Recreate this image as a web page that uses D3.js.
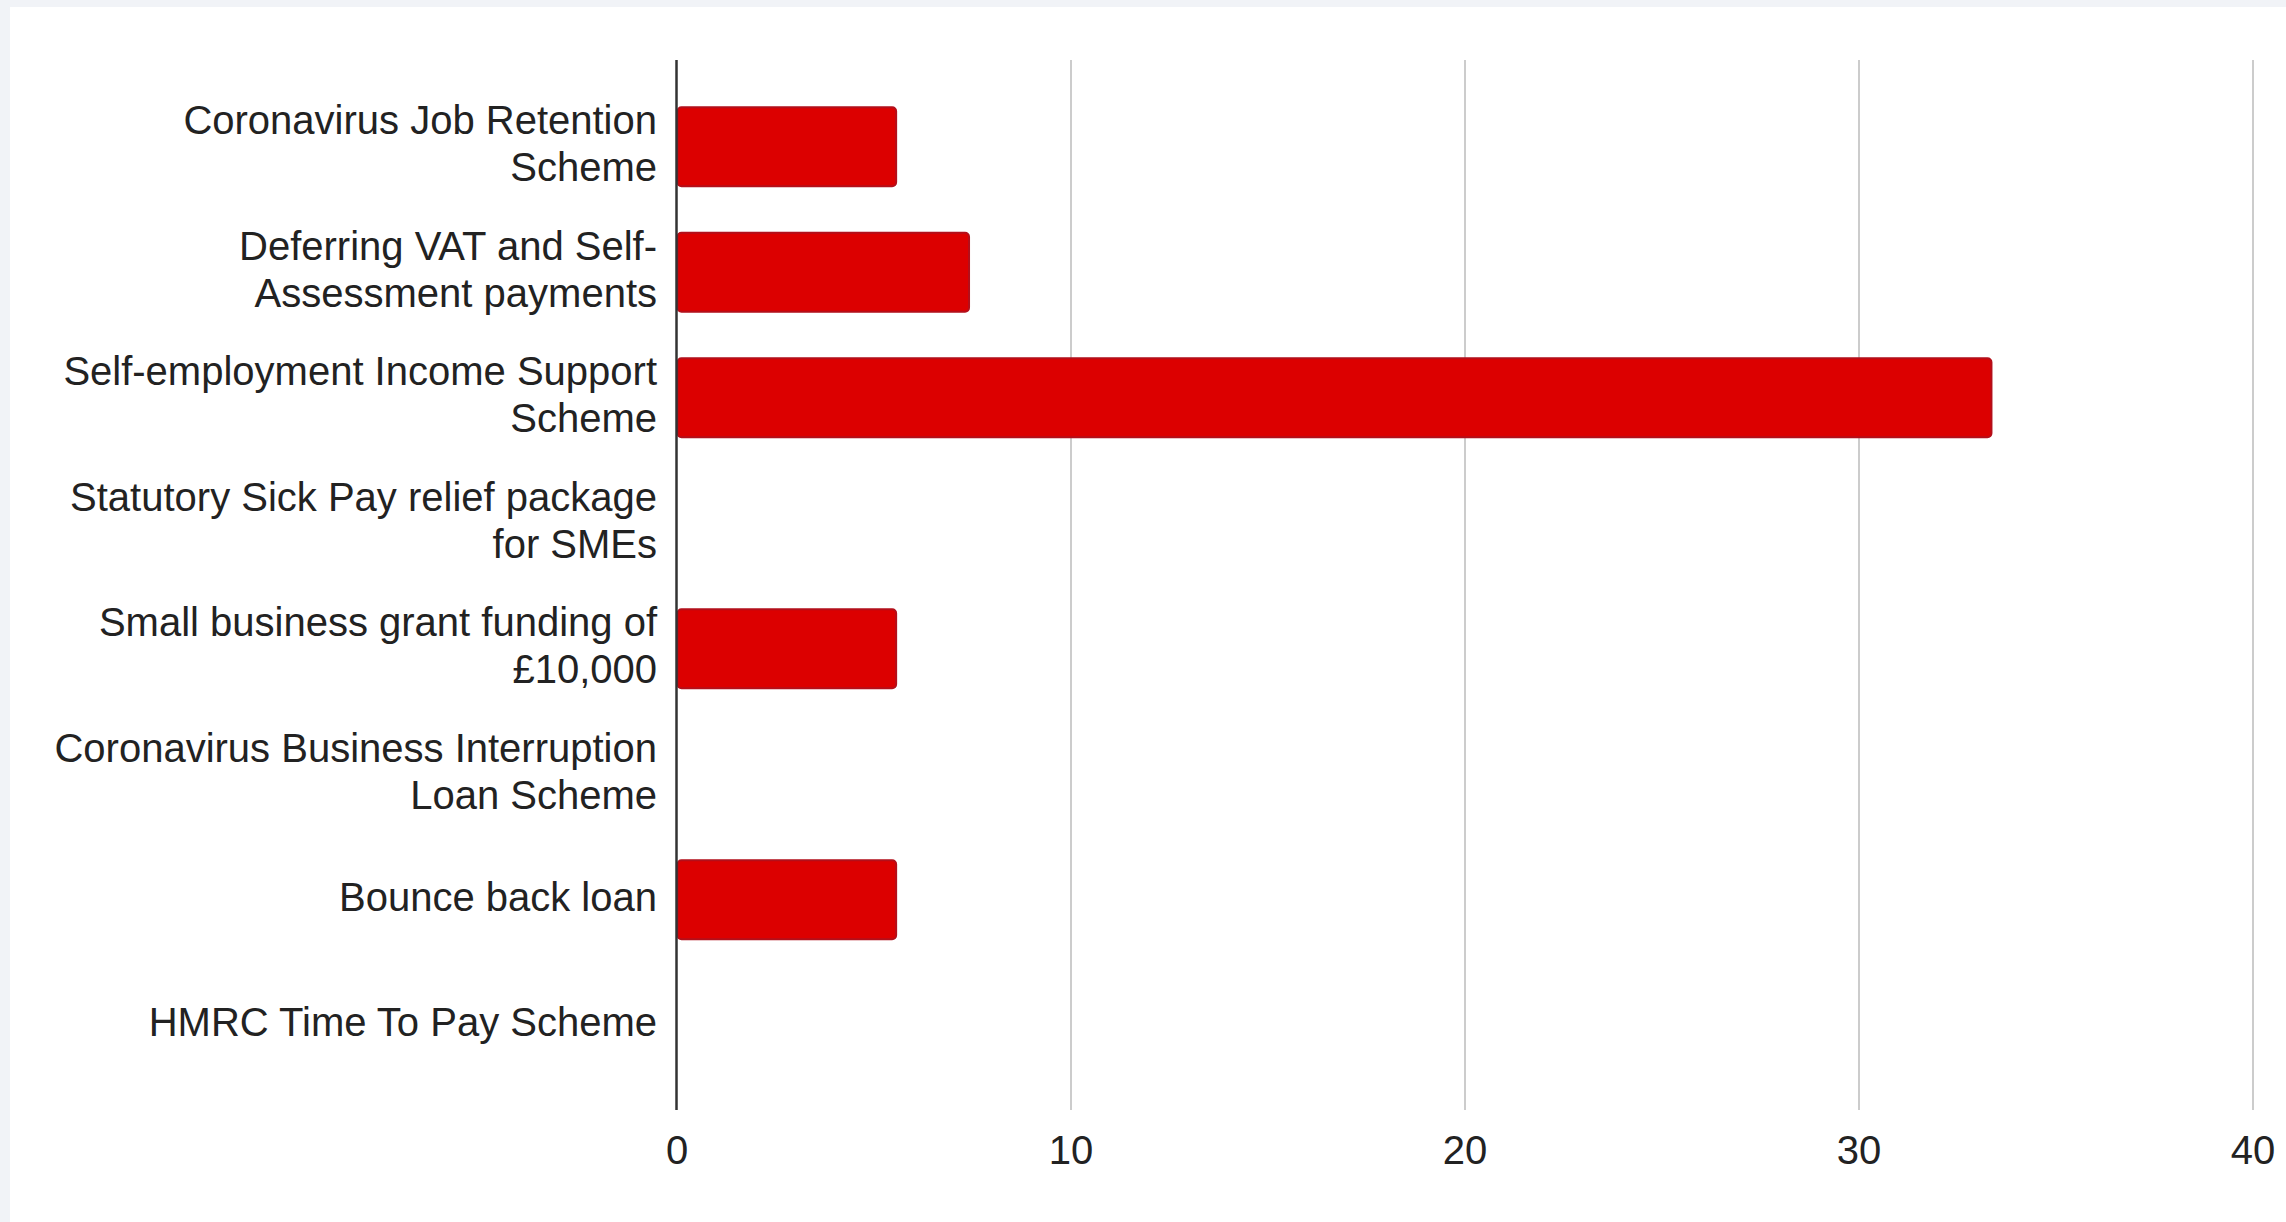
<!DOCTYPE html>
<html>
<head>
<meta charset="utf-8">
<script src="https://cdn.jsdelivr.net/npm/d3@7"></script>
<style>
  html, body { margin: 0; padding: 0; background: #f1f3f7; }
  svg { display: block; }
</style>
</head>
<body>
<svg id="chart" width="2286" height="1222"></svg>
<script>
// Support schemes used, one bar per scheme
const categories = [
  "Coronavirus Job Retention Scheme",
  "Deferring VAT and Self-Assessment payments",
  "Self-employment Income Support Scheme",
  "Statutory Sick Pay relief package for SMEs",
  "Small business grant funding of £10,000",
  "Coronavirus Business Interruption Loan Scheme",
  "Bounce back loan",
  "HMRC Time To Pay Scheme"
];

// Category labels as wrapped lines
const categoryLines = [
  ["Coronavirus Job Retention", "Scheme"],
  ["Deferring VAT and Self-", "Assessment payments"],
  ["Self-employment Income Support", "Scheme"],
  ["Statutory Sick Pay relief package", "for SMEs"],
  ["Small business grant funding of", "£10,000"],
  ["Coronavirus Business Interruption", "Loan Scheme"],
  ["Bounce back loan"],
  ["HMRC Time To Pay Scheme"]
];

const values = [5.6, 7.45, 33.4, 0, 5.6, 0, 5.6, 0];

const xTicks = [0, 10, 20, 30, 40];

const W = 2286, H = 1222;
const plot = { left: 676.5, right: 2252.5, top: 60, bottom: 1110 };

const svg = d3.select("#chart");

// White card with a thin grey frame on the top and left edges
svg.append("rect")
  .attr("x", 10).attr("y", 7)
  .attr("width", W - 10).attr("height", H - 7)
  .attr("fill", "#ffffff");

const x = d3.scaleLinear()
  .domain([0, 40])
  .range([plot.left, plot.right]);

const y = d3.scaleBand()
  .domain(categories)
  .range([84, 1088])
  .paddingInner(0.355)
  .paddingOuter(0.1775);

const font = "'Liberation Sans', Arial, Helvetica, sans-serif";

// Vertical gridlines and value labels
const xAxis = d3.axisBottom(x)
  .tickValues(xTicks)
  .tickFormat(d3.format("d"))
  .tickSizeInner(-(plot.bottom - plot.top))
  .tickSizeOuter(0)
  .tickPadding(25.6);

const gx = svg.append("g")
  .attr("transform", `translate(0,${plot.bottom})`)
  .call(xAxis);
gx.select(".domain").remove();
gx.selectAll(".tick line")
  .attr("stroke", "#cccccc")
  .attr("stroke-width", 2)
  .attr("opacity", d => d === 0 ? 0 : 1);
gx.selectAll(".tick text")
  .attr("fill", "#222222")
  .style("font-family", font)
  .style("font-size", "40px");

// Bars
svg.append("g")
  .selectAll("rect")
  .data(categories.map((c, i) => ({ c, v: values[i] })).filter(d => d.v > 0))
  .join("rect")
  .attr("x", x(0) + 1)
  .attr("y", d => y(d.c) + 1)
  .attr("width", d => x(d.v) - x(0) - 2)
  .attr("height", y.bandwidth() - 2)
  .attr("rx", 4)
  .attr("fill", "#dc0000")
  .attr("stroke", "#b30f1a")
  .attr("stroke-width", 2);

// Category labels
const yAxis = d3.axisLeft(y)
  .tickSize(0)
  .tickPadding(19.5)
  .tickFormat("");

const gy = svg.append("g")
  .attr("transform", `translate(${plot.left},0)`)
  .call(yAxis);
gy.select(".domain").remove();

gy.selectAll(".tick text")
  .attr("dy", null)
  .attr("fill", "#222222")
  .style("font-family", font)
  .style("font-size", "40px")
  .attr("text-anchor", "end")
  .each(function (d) {
    const lines = categoryLines[categories.indexOf(d)];
    const lh = 47;
    const first = 11 - (lines.length - 1) * lh / 2;
    const t = d3.select(this);
    t.text(null);
    lines.forEach((ln, k) => {
      t.append("tspan")
        .attr("x", -19.5)
        .attr("y", first + k * lh)
        .text(ln);
    });
  });

// Baseline at zero
svg.append("line")
  .attr("x1", x(0)).attr("x2", x(0))
  .attr("y1", plot.top).attr("y2", plot.bottom)
  .attr("stroke", "#333333")
  .attr("stroke-width", 2.5);
</script>
</body>
</html>
